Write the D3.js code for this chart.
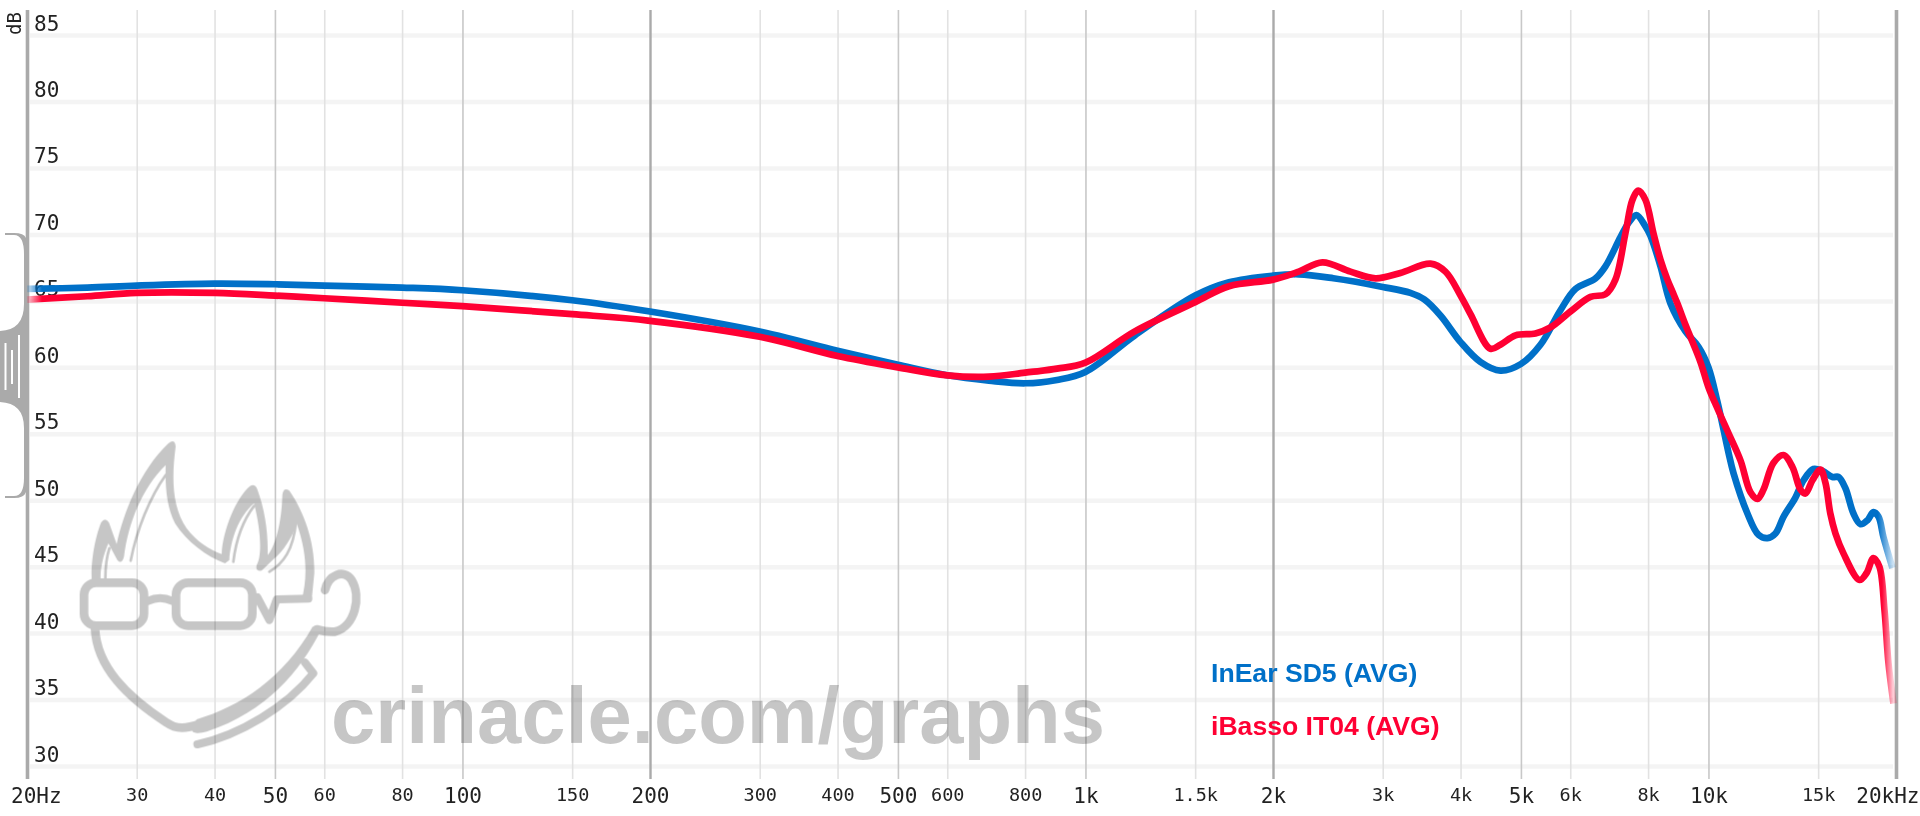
<!DOCTYPE html>
<html><head><meta charset="utf-8">
<script src="https://cdn.jsdelivr.net/npm/d3@7/dist/d3.min.js"></script>
<style>
html,body{margin:0;padding:0;background:#fff;overflow:hidden}
svg{display:block;filter:blur(0.45px)}
.tick text{font-family:"DejaVu Sans Mono",monospace;fill:#222}
</style></head><body><div id="chart"></div>
<script>
// --- data ---
const xTickValues=[20,30,40,50,60,80,100,150,200,300,400,500,600,800,1000,1500,2000,3000,4000,5000,6000,8000,10000,15000,20000];
const xTickLabels=["20Hz","30","40","50","60","80","100","150","200","300","400","500","600","800","1k","1.5k","2k","3k","4k","5k","6k","8k","10k","15k","20kHz"];
const xMajor=[20,50,100,200,500,1000,2000,5000,10000,20000];
const xStrong=[200,2000];
const xMedium=[50,100,500,1000,5000,10000];
const yTickValues=[30,35,40,45,50,55,60,65,70,75,80,85];
const seriesNames=["InEar SD5 (AVG)","iBasso IT04 (AVG)"];
const blueFreq=[20,25,30,40,50,60,80,100,150,200,300,400,500,600,700,800,900,1000,1200,1500,1700,2000,2200,2500,3000,3323,3500,3714,4000,4306,4635,5000,5374,5787,6116,6587,6834,7224,7450,7664,7923,8070,8375,8690,9185,9637,10000,10338,10767,10968,11550,12030,12435,12810,13195,13790,14210,14740,15240,15810,16170,16590,17090,17540,18000,18400,18750,19100,19740];
const blueDb=[65.9,66.0,66.15,66.3,66.25,66.15,66.0,65.8,65.05,64.2,62.7,61.25,60.2,59.4,59.0,58.8,59.05,59.65,62.4,65.4,66.4,66.9,67.0,66.7,66.05,65.6,65.1,63.9,61.9,60.4,59.75,60.25,61.7,64.3,65.9,66.7,67.6,69.8,70.9,71.45,70.6,69.9,67.6,64.8,62.7,61.55,60.0,57.4,53.6,52.05,49.0,47.4,47.15,47.5,48.75,50.2,51.5,52.35,52.2,51.75,51.75,50.9,49.0,48.2,48.5,49.1,48.75,47.2,44.9];
const redFreq=[20,25,30,40,50,60,80,100,150,200,300,400,500,600,700,800,900,1000,1200,1500,1700,2000,2200,2401,2663,2921,3203,3579,3783,4000,4150,4467,4635,4901,5275,5576,6004,6465,6834,7090,7358,7551,7721,7923,8159,8375,8593,8754,8917,9185,9709,10000,10338,10767,11256,11680,11985,12256,12712,13195,13640,14050,14310,14685,15127,15410,15690,15990,16470,17475,17930,18400,18810,19170,19450,19815];
const redDb=[65.1,65.35,65.6,65.6,65.4,65.2,64.86,64.6,64.0,63.5,62.3,60.85,60.0,59.4,59.3,59.6,59.9,60.35,62.7,64.9,66.1,66.6,67.2,67.9,67.2,66.7,67.1,67.8,67.2,65.4,64.0,61.4,61.7,62.4,62.55,63.0,64.2,65.3,65.5,66.6,70.1,72.6,73.3,72.6,70.1,68.1,66.6,65.7,64.8,63.2,60.4,58.5,56.9,55.05,53.0,50.6,50.1,50.8,52.8,53.4,52.5,50.8,50.5,51.5,52.3,51.3,49.0,47.5,46.0,44.0,44.5,45.65,45.0,41.7,37.75,34.7];
const seriesColors=["#0070c8","#ff0033"];

const W=1920,H=816;
const x=d3.scaleLog().domain([20,20000]).range([27,1896]);
const y=d3.scaleLinear().domain([30,85]).range([766,35.1]);
const svg=d3.select("#chart").append("svg").attr("width",W).attr("height",H);

// defs: end fades
const defs=svg.append("defs");
[["g0",seriesColors[0],1878],["g1",seriesColors[1],1882]].forEach(([id,c,fadeAt])=>{
  const g=defs.append("linearGradient").attr("id",id).attr("gradientUnits","userSpaceOnUse")
    .attr("x1",x(20)).attr("x2",x(20000)).attr("y1",0).attr("y2",0);
  const t=px=>(px-x(20))/(x(20000)-x(20));
  g.append("stop").attr("offset",0).attr("stop-color",c).attr("stop-opacity",.15);
  g.append("stop").attr("offset",t(42)).attr("stop-color",c).attr("stop-opacity",1);
  g.append("stop").attr("offset",t(fadeAt)).attr("stop-color",c).attr("stop-opacity",1);
  g.append("stop").attr("offset",t(1893)).attr("stop-color",c).attr("stop-opacity",.2);
});

// horizontal grid + y labels
const yAxis=d3.axisLeft(y).tickValues(yTickValues).tickSize(0).tickFormat(d3.format("d"));
const gy=svg.append("g").attr("transform","translate(30,0)").call(yAxis);
gy.select(".domain").remove();
gy.selectAll(".tick line").attr("x2",1863).attr("stroke","#f4f4f4").attr("stroke-width",4.5);
gy.selectAll(".tick text").attr("x",4).attr("dy",0).attr("y",-5).attr("text-anchor","start").attr("font-size",21);

// vertical grid + x labels
const xAxis=d3.axisBottom(x).tickValues(xTickValues).tickSize(0).tickFormat((d,i)=>xTickLabels[i]);
const gx=svg.append("g").attr("transform","translate(0,779)").call(xAxis);
gx.select(".domain").remove();
gx.selectAll(".tick").each(function(d){
  const t=d3.select(this), major=xMajor.includes(d), edge=d===20||d===20000;
  t.select("line").attr("y2",-769)
    .attr("stroke",edge?"#aaa":xStrong.includes(d)?"#aaa":xMedium.includes(d)?"#c8c8c8":"#e2e2e2")
    .attr("stroke-width",edge?3.6:xStrong.includes(d)?2.4:1.6);
  t.select("text").attr("font-size",major?21:18.5).attr("y",major?24:22).attr("dy",0);
  if(d===20) t.select("text").attr("text-anchor","start").attr("x",-16.5);
  if(d===20000) t.select("text").attr("text-anchor","end").attr("x",23);
});

// dB label
svg.append("text").text("dB").attr("transform","translate(21,35) rotate(-90)")
  .attr("font-family","DejaVu Sans Mono,monospace").attr("font-size",19).attr("fill","#222");

// left side handle
svg.append("path").attr("fill","#aaa").attr("fill-rule","evenodd")
 .attr("d","M5,233 H14 Q24,233 26,238 V234 H26 V497 H26 V492 Q24,498 14,498 H5 V496 H14 Q24,496 24,478 V428 Q24,403 0,402 V331 Q24,330 24,304 V254 Q24,235 14,235 H5 Z");
svg.append("g").attr("stroke","#fff").attr("stroke-width",2).selectAll("line")
 .data([[5.5,343,390],[12,350,384],[19,335,398]]).join("line")
 .attr("x1",d=>d[0]).attr("x2",d=>d[0]).attr("y1",d=>d[1]).attr("y2",d=>d[2]);

// watermark
const wm=svg.append("g").attr("opacity",.225);
const logo=wm.append("g").attr("transform","translate(0,400) scale(.3333)")
  .attr("fill","none").attr("stroke","#000").attr("stroke-linecap","round").attr("stroke-linejoin","round");
logo.append("path").attr("stroke","none").attr("fill","#000")
 .attr("d","M275,545 C272,470 290,400 303,368 Q315,350 327,368 L350,432 C370,340 420,210 505,130 Q525,115 527,140 C515,230 515,320 560,385 C590,425 630,450 665,462 C668,390 710,290 750,258 Q765,250 772,268 C795,330 805,400 803,465 C825,440 845,370 847,285 Q850,260 868,272 C915,340 945,430 943,520 L935,600 Q930,610 920,605 L905,600 C920,540 925,470 890,370 C878,410 850,455 820,478 L785,512 Q765,515 770,495 C785,470 785,400 762,310 C715,350 692,420 688,480 L675,490 C620,470 560,425 525,370 C500,320 495,260 497,195 C425,265 385,370 372,470 Q365,495 352,480 L325,430 C308,470 300,510 302,540 Z");
logo.append("g").attr("stroke-width",8).selectAll("path")
 .data(["M392,482 C410,390 450,290 497,225","M700,485 C708,420 730,360 762,318","M808,515 C850,490 880,450 888,365","M316,535 C316,500 320,470 328,445"])
 .join("path").attr("d",d=>d);
logo.append("rect").attr("x",252).attr("y",548).attr("width",180).attr("height",129).attr("rx",36).attr("stroke-width",26);
logo.append("rect").attr("x",528).attr("y",548).attr("width",229).attr("height",129).attr("rx",36).attr("stroke-width",26);
logo.append("path").attr("stroke-width",24).attr("d","M444,603 Q480,585 517,603");
logo.append("path").attr("stroke-width",24).attr("d","M772,592 L808,660 L830,598 L925,596");
logo.append("path").attr("stroke-width",26).attr("d","M285,685 C290,800 380,890 500,968 C530,990 560,985 600,972");
logo.append("path").attr("stroke","none").attr("fill","#000").attr("d","M590,958 C720,920 850,835 938,680 L964,688 C900,815 800,935 620,995 C590,1003 555,1003 590,958 Z");
logo.append("path").attr("stroke-width",26).attr("d","M975,570 C985,525 1030,505 1055,540 C1085,590 1065,680 1005,695 Q980,697 950,688");
logo.append("path").attr("stroke-width",24).attr("d","M592,1033 C720,1005 860,920 940,820 L915,788");

wm.append("text").attr("id","wmtext").text("crinacle.com/graphs")
  .attr("x",331).attr("y",743).attr("font-family","Liberation Sans,Arial,sans-serif").attr("font-weight",700)
  .attr("font-size",80).attr("textLength",774).attr("lengthAdjust","spacingAndGlyphs").attr("fill","#000");

// curves
const line=d3.line().x(d=>x(d[0])).y(d=>y(d[1])).curve(d3.curveCatmullRom.alpha(.5));
[[blueFreq,blueDb,"url(#g0)"],[redFreq,redDb,"url(#g1)"]].forEach(([f,v,c])=>{
  svg.append("path").datum(d3.zip(f,v)).attr("d",line).attr("fill","none").attr("stroke",c)
    .attr("stroke-width",6.7).attr("stroke-linejoin","round");
});

// legend
svg.append("g").selectAll("text").data(seriesNames).join("text").text(d=>d)
  .attr("x",1211).attr("y",(d,i)=>i?735:682).attr("fill",(d,i)=>seriesColors[i])
  .attr("font-family","Liberation Sans,Arial,sans-serif").attr("font-weight",700).attr("font-size",26.6);
</script></body></html>
